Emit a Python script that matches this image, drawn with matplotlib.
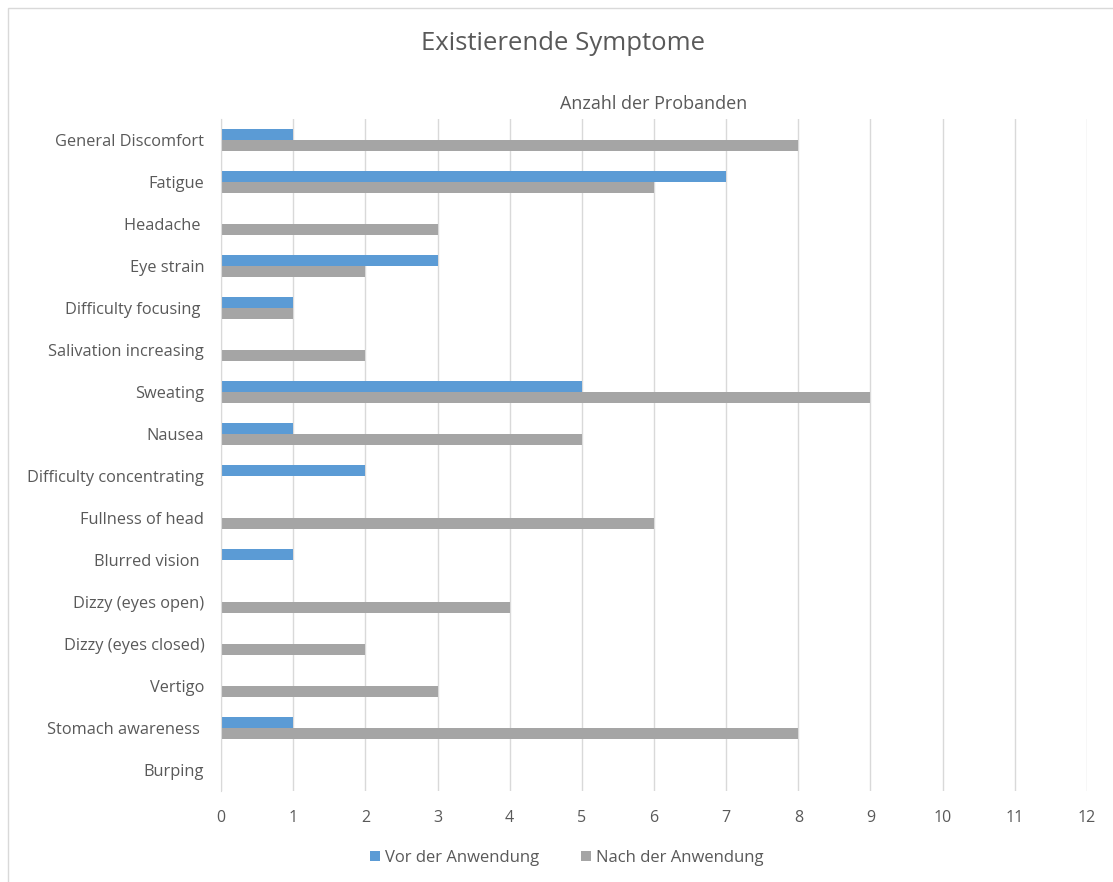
import numpy as np
import matplotlib.pyplot as plt
from matplotlib.patches import Rectangle

symptoms = [
    "General Discomfort", "Fatigue", "Headache ", "Eye strain",
    "Difficulty focusing ", "Salivation increasing", "Sweating", "Nausea",
    "Difficulty concentrating", "Fullness of head", "Blurred vision ",
    "Dizzy (eyes open)", "Dizzy (eyes closed)", "Vertigo",
    "Stomach awareness ", "Burping",
]
vor = [1, 7, 0, 3, 1, 0, 5, 1, 2, 0, 1, 0, 0, 0, 1, 0]
nach = [8, 6, 3, 2, 1, 2, 9, 5, 0, 6, 0, 4, 2, 3, 8, 0]

text_col = "#595959"
grid_col = "#D9D9D9"
plt.rcParams["font.family"] = ["Open Sans", "DejaVu Sans"]

fig = plt.figure(figsize=(11.13, 8.82), dpi=100)
ax = fig.add_axes([221 / 1113, 1 - 791 / 882, 866 / 1113, 672 / 882])

# outer chart frame
fig.patches.append(Rectangle((8 / 1113, -0.1), 1.2, 1 - 8 / 882 + 0.1,
                             transform=fig.transFigure, fill=False,
                             edgecolor=grid_col, linewidth=1))

y = np.arange(len(symptoms))
h = 0.26
ax.barh(y - h / 2, vor, height=h, color="#5B9BD5", label="Vor der Anwendung")
ax.barh(y + h / 2, nach, height=h, color="#A5A5A5", label="Nach der Anwendung")

ax.set_ylim(len(symptoms) - 0.5, -0.5)
ax.set_yticks(y)
ax.set_yticklabels(symptoms, fontsize=11.8, color=text_col)
ax.set_xlim(0, 12)
ax.set_xticks(range(13))
ax.tick_params(axis="x", labelsize=11.5, labelcolor=text_col, length=0, pad=14)
ax.tick_params(axis="y", length=0, pad=12)
ax.grid(axis="x", color=grid_col, linewidth=1)
ax.set_axisbelow(True)
for s in ["top", "right", "bottom"]:
    ax.spines[s].set_visible(False)
ax.spines["left"].set_color(grid_col)

ax.set_xlabel("Anzahl der Probanden", fontsize=13, color=text_col, labelpad=7)
ax.xaxis.set_label_position("top")

fig.text(563 / 1113, 1 - 44 / 882, "Existierende Symptome", ha="center", va="center",
         fontsize=18.5, color=text_col)

ax.legend(loc="center", bbox_to_anchor=(346 / 866, -67 / 672), ncol=2,
          frameon=False, fontsize=12, labelcolor=text_col,
          handlelength=0.6, handleheight=0.6, handletextpad=0.3, columnspacing=2.5)

fig.savefig("out.png", dpi=100, facecolor="white")
